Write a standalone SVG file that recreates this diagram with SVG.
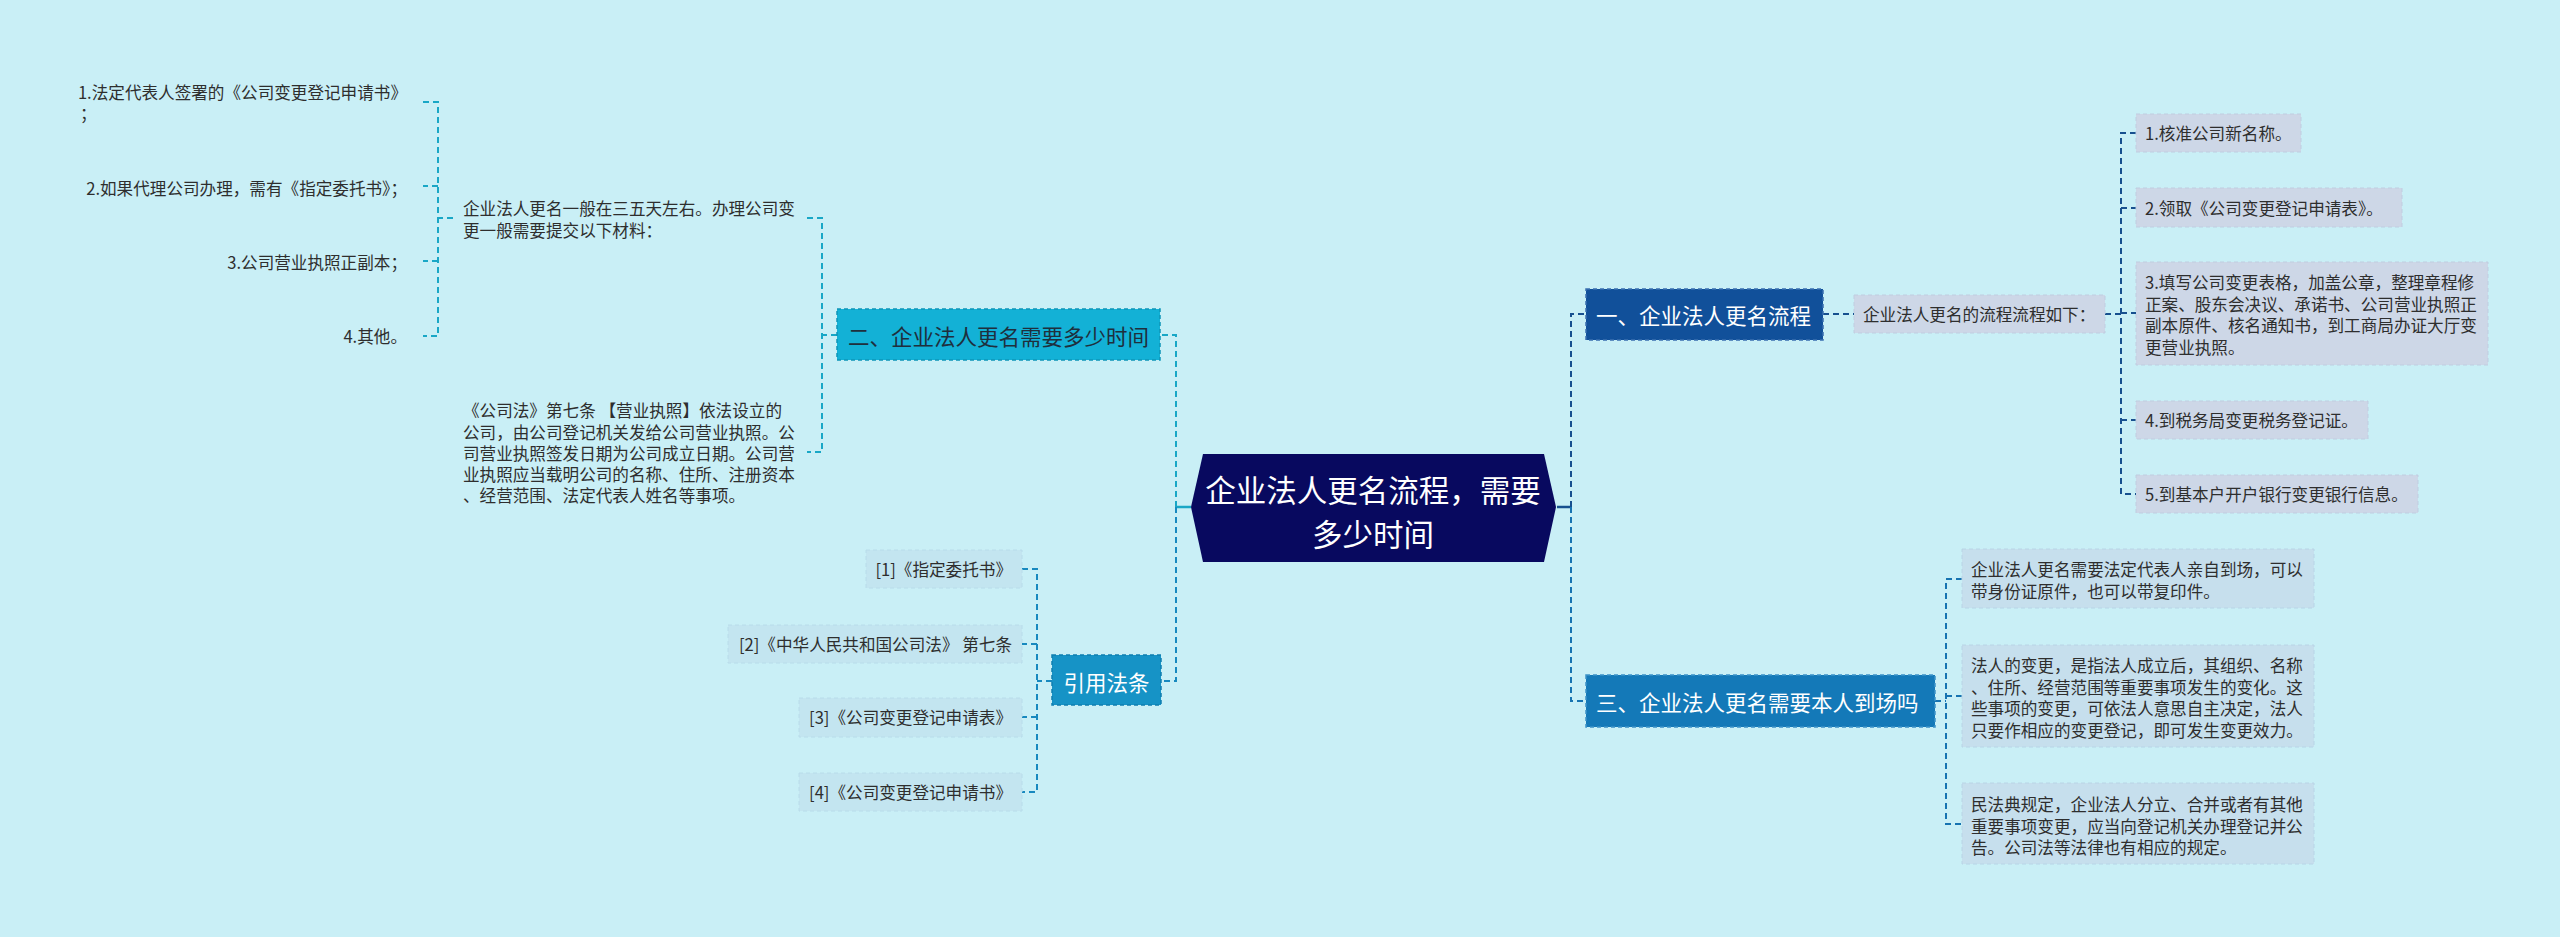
<svg xmlns="http://www.w3.org/2000/svg" width="2560" height="937" viewBox="0 0 2560 937">
<style>
text{font-family:"Noto Sans CJK SC","Noto Sans",sans-serif;dominant-baseline:central}
tspan{dominant-baseline:central}
.leaf{font-size:16.6px;fill:#2e2e2e}
.node{font-size:21.5px}
.c{fill:none;stroke-width:2;stroke-dasharray:6 4}
.s{fill:none;stroke-width:2.5}
.navy{stroke:#17508f}
.blue{stroke:#1673b1}
.cyan{stroke:#19a7c6}
.ref{stroke:#1889bf}
.lb1{fill:#cdd7e7;stroke:#bfcde0;stroke-width:1;stroke-dasharray:4 3}
.lb3{fill:#c6dfed;stroke:#b8d4e6;stroke-width:1;stroke-dasharray:4 3}
.lbr{fill:#c3e5f0;stroke:#b8dcea;stroke-width:1;stroke-dasharray:4 3}
</style>
<rect width="2560" height="937" fill="#c9eff6"/>
<g id="connectors">
<line class="s navy" x1="1557" y1="507" x2="1571" y2="507"/>
<path class="c navy" d="M1571,507 V314 H1586"/>
<path class="c blue" d="M1571,507 V701 H1586"/>
<path class="c navy" d="M1823,314 H1854"/>
<path class="c navy" d="M2105,314 H2121 M2136,133 H2121 V494 H2136 M2121,208 H2136 M2121,313 H2136 M2121,420 H2136"/>
<path class="c blue" d="M1935,701 H1946 M1962,579 H1946 V824 H1962 M1946,696 H1962"/>
<line class="s cyan" x1="1191" y1="507" x2="1176" y2="507"/>
<path class="c cyan" d="M1176,507 V335 H1160"/>
<path class="c ref" d="M1176,507 V681 H1161"/>
<path class="c cyan" d="M837,335 H822 M807,218 H822 V452 H807"/>
<path class="c cyan" d="M453,218 H438 M423,102 H438 V336 H423 M438,186 H423 M438,261 H423"/>
<path class="c ref" d="M1052,681 H1037 M1022,569 H1037 V792 H1022 M1037,644 H1022 M1037,717 H1022"/>
</g>
<g id="root">
<polygon points="1191,507 1203,454 1544,454 1556,507 1544,562 1203,562" fill="#08095f"/>
<text font-size="30.5" fill="#fff" text-anchor="middle"><tspan x="1373" y="489">企业法人更名流程，需要</tspan><tspan x="1373" y="533">多少时间</tspan></text>
</g>
<g id="n1">
<rect x="1586" y="289" width="237" height="51" fill="#11509a" stroke="#3a6fb0" stroke-width="1.5" stroke-dasharray="4 3"/>
<text class="node" x="1596" y="314" fill="#fff">一、企业法人更名流程</text>
</g>
<g id="n1-sub">
<rect class="lb1" x="1854" y="295" width="251" height="38"/>
<text class="leaf" x="1863" y="314">企业法人更名的流程流程如下：</text>
</g>
<g id="n1-1"><rect class="lb1" x="2136" y="114" width="165" height="38"/><text class="leaf" x="2145" y="133">1.核准公司新名称。</text></g>
<g id="n1-2"><rect class="lb1" x="2136" y="188" width="266" height="39"/><text class="leaf" x="2145" y="208">2.领取《公司变更登记申请表》。</text></g>
<g id="n1-3"><rect class="lb1" x="2136" y="262" width="352" height="103"/>
<text class="leaf"><tspan x="2145" y="282">3.填写公司变更表格，加盖公章，整理章程修</tspan><tspan x="2145" y="303.5">正案、股东会决议、承诺书、公司营业执照正</tspan><tspan x="2145" y="325">副本原件、核名通知书，到工商局办证大厅变</tspan><tspan x="2145" y="346.5">更营业执照。</tspan></text></g>
<g id="n1-4"><rect class="lb1" x="2136" y="401" width="232" height="38"/><text class="leaf" x="2145" y="420">4.到税务局变更税务登记证。</text></g>
<g id="n1-5"><rect class="lb1" x="2136" y="475" width="282" height="38"/><text class="leaf" x="2145" y="494">5.到基本户开户银行变更银行信息。</text></g>
<g id="n3">
<rect x="1586" y="675" width="349" height="52" fill="#1479b8" stroke="#3c93c8" stroke-width="1.5" stroke-dasharray="4 3"/>
<text class="node" x="1596" y="701" fill="#fff">三、企业法人更名需要本人到场吗</text>
</g>
<g id="n3-1"><rect class="lb3" x="1962" y="549" width="352" height="59"/>
<text class="leaf"><tspan x="1971" y="569">企业法人更名需要法定代表人亲自到场，可以</tspan><tspan x="1971" y="591">带身份证原件，也可以带复印件。</tspan></text></g>
<g id="n3-2"><rect class="lb3" x="1962" y="645" width="352" height="102"/>
<text class="leaf"><tspan x="1971" y="665">法人的变更，是指法人成立后，其组织、名称</tspan><tspan x="1971" y="687">、住所、经营范围等重要事项发生的变化。这</tspan><tspan x="1971" y="708">些事项的变更，可依法人意思自主决定，法人</tspan><tspan x="1971" y="730">只要作相应的变更登记，即可发生变更效力。</tspan></text></g>
<g id="n3-3"><rect class="lb3" x="1962" y="783" width="352" height="81"/>
<text class="leaf"><tspan x="1971" y="804">民法典规定，企业法人分立、合并或者有其他</tspan><tspan x="1971" y="826">重要事项变更，应当向登记机关办理登记并公</tspan><tspan x="1971" y="847">告。公司法等法律也有相应的规定。</tspan></text></g>
<g id="n2">
<rect x="837" y="309" width="323" height="51" fill="#13b1d6" stroke="#0e95b8" stroke-width="1.5" stroke-dasharray="4 3"/>
<text class="node" x="848" y="335" fill="#1f2f3d">二、企业法人更名需要多少时间</text>
</g>
<g id="n2-1">
<text class="leaf"><tspan x="463" y="208">企业法人更名一般在三五天左右。办理公司变</tspan><tspan x="463" y="230">更一般需要提交以下材料：</tspan></text>
</g>
<g id="n2-1-1"><text class="leaf"><tspan x="407" y="92" text-anchor="end">1.法定代表人签署的《公司变更登记申请书》</tspan><tspan x="80" y="113">；</tspan></text></g>
<g id="n2-1-2"><text class="leaf" x="407" y="188" text-anchor="end">2.如果代理公司办理，需有《指定委托书》；</text></g>
<g id="n2-1-3"><text class="leaf" x="407" y="262" text-anchor="end">3.公司营业执照正副本；</text></g>
<g id="n2-1-4"><text class="leaf" x="407" y="336" text-anchor="end">4.其他。</text></g>
<g id="n2-2">
<text class="leaf"><tspan x="463" y="410">《公司法》第七条 【营业执照】依法设立的</tspan><tspan x="463" y="432">公司，由公司登记机关发给公司营业执照。公</tspan><tspan x="463" y="453">司营业执照签发日期为公司成立日期。公司营</tspan><tspan x="463" y="474">业执照应当载明公司的名称、住所、注册资本</tspan><tspan x="463" y="495">、经营范围、法定代表人姓名等事项。</tspan></text>
</g>
<g id="n4">
<rect x="1052" y="655" width="109" height="50" fill="#1693c6" stroke="#0f7fb0" stroke-width="1.5" stroke-dasharray="4 3"/>
<text class="node" x="1106.5" y="681" fill="#fff" text-anchor="middle">引用法条</text>
</g>
<g id="n4-1"><rect class="lbr" x="866" y="550" width="156" height="38"/><text class="leaf" x="1012" y="569" text-anchor="end">[1]《指定委托书》</text></g>
<g id="n4-2"><rect class="lbr" x="728" y="625" width="294" height="38"/><text class="leaf" x="1012" y="644" text-anchor="end">[2]《中华人民共和国公司法》 第七条</text></g>
<g id="n4-3"><rect class="lbr" x="799" y="698" width="223" height="39"/><text class="leaf" x="1012" y="717" text-anchor="end">[3]《公司变更登记申请表》</text></g>
<g id="n4-4"><rect class="lbr" x="799" y="773" width="223" height="38"/><text class="leaf" x="1012" y="792" text-anchor="end">[4]《公司变更登记申请书》</text></g>
</svg>
